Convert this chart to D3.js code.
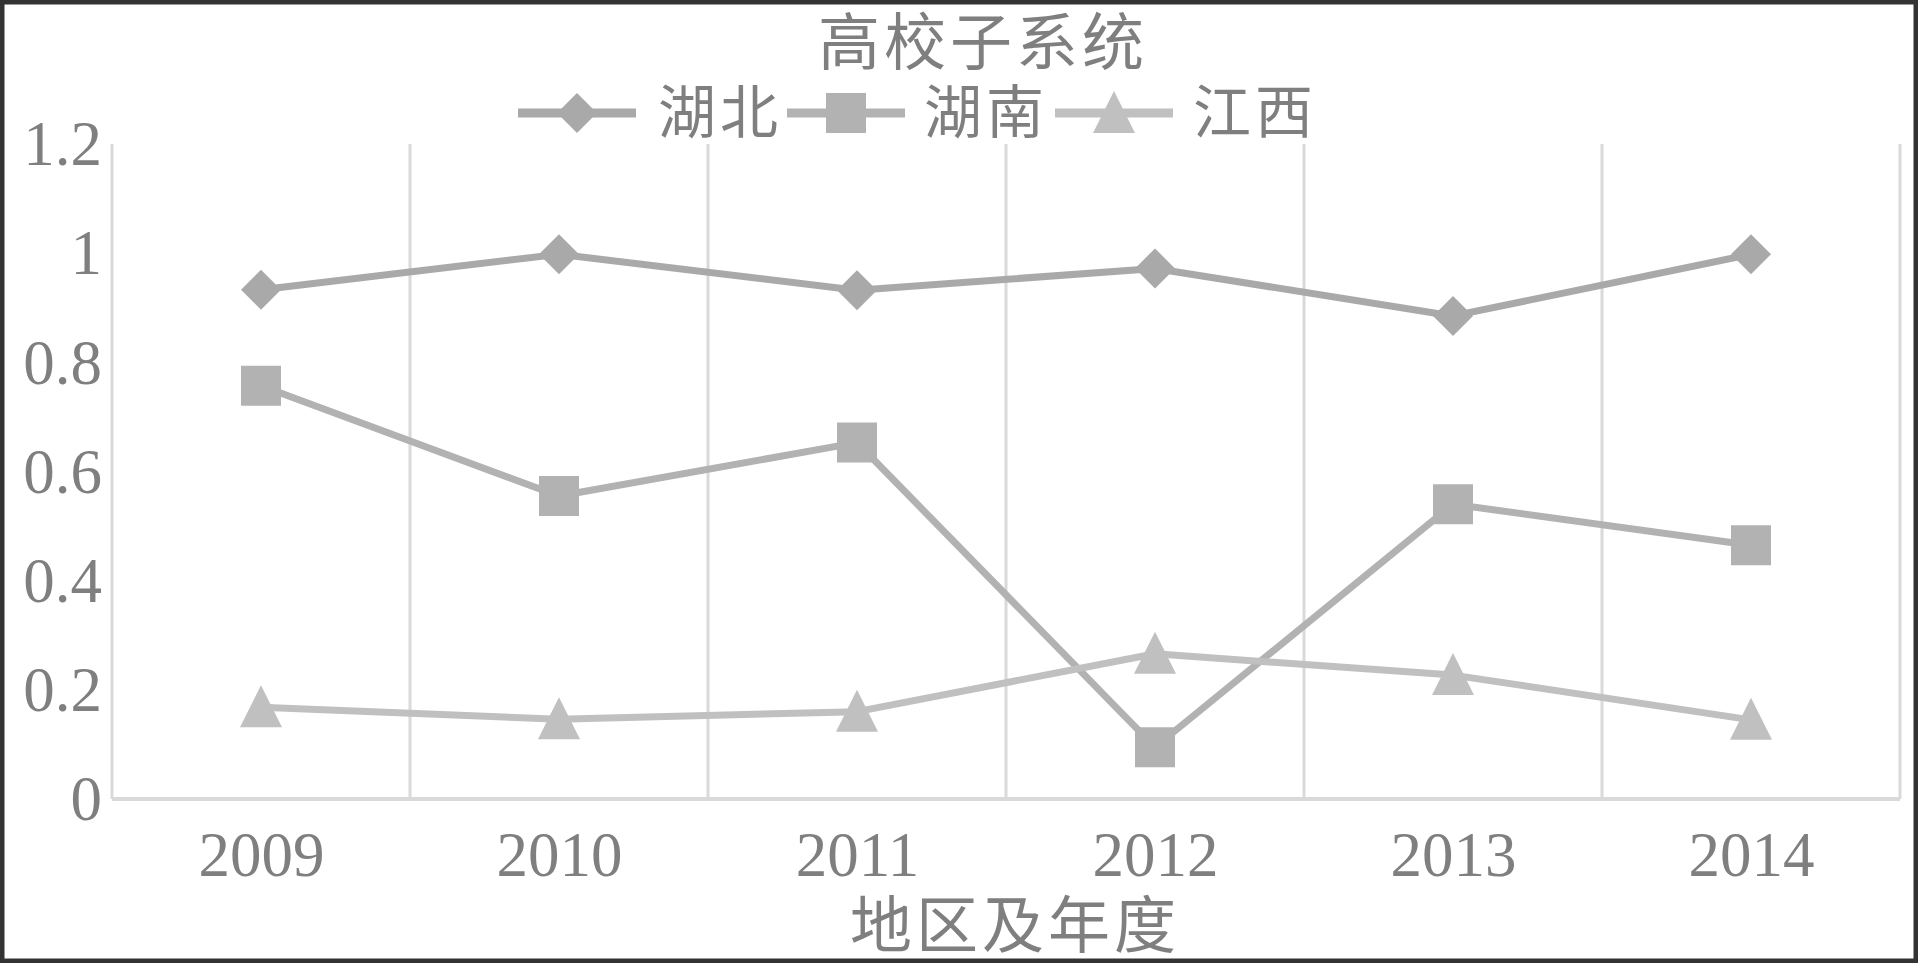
<!DOCTYPE html>
<html>
<head>
<meta charset="utf-8">
<script src="https://cdn.jsdelivr.net/npm/d3@7/dist/d3.min.js"></script>
<style>
html,body{margin:0;padding:0;background:#fff;}
svg{display:block;}
</style>
</head>
<body>
<svg id="chart" width="1918" height="963"></svg>
<script>
const categories = ["2009","2010","2011","2012","2013","2014"];
const seriesNames = ["湖北","湖南","江西"];
const hubei  = [0.933, 0.998, 0.932, 0.972, 0.885, 0.998];
const hunan  = [0.757, 0.555, 0.653, 0.095, 0.540, 0.465];
const jiangxi= [0.168, 0.146, 0.160, 0.266, 0.227, 0.145];
const yTicks = [0, 0.2, 0.4, 0.6, 0.8, 1, 1.2];
const titleText = "高校子系统";
const xTitleText = "地区及年度";

(function(){
const W = 1918, H = 963;
const pLeft = 112, pRight = 1900, pTop = 144, pBottom = 799;
const fontFam = "'Liberation Serif','Times New Roman','DejaVu Serif','Noto Sans CJK SC',serif";
const textColor = "#7f7f7f";
const gridColor = "#d9d9d9";

const svg = d3.select("#chart");
svg.append("rect").attr("x",0).attr("y",0).attr("width",W).attr("height",H).attr("fill","#fff");

const xBand = d3.scaleBand().domain(categories).range([pLeft, pRight]).paddingInner(0).paddingOuter(0);
const x = d3.scalePoint().domain(categories).range([pLeft, pRight]).padding(0.5);
const y = d3.scaleLinear().domain([0, 1.2]).range([pBottom, pTop]);

const bounds = categories.map(c => xBand(c)).concat([xBand(categories[categories.length-1]) + xBand.bandwidth()]);
svg.append("g").selectAll("line").data(bounds).join("line")
  .attr("x1", d => d).attr("x2", d => d)
  .attr("y1", pTop).attr("y2", pBottom)
  .attr("stroke", gridColor).attr("stroke-width", 3);

svg.append("line").attr("x1", pLeft).attr("x2", pRight).attr("y1", pBottom).attr("y2", pBottom)
  .attr("stroke", gridColor).attr("stroke-width", 4);

const yAxis = d3.axisLeft(y).tickValues(yTicks).tickSize(0).tickPadding(0)
  .tickFormat(d => d3.format("~g")(d));
const gy = svg.append("g").attr("transform", `translate(${pLeft - 10},0)`).call(yAxis);
gy.select(".domain").remove();
gy.selectAll("text").attr("font-family", fontFam).attr("font-size", 63).attr("fill", textColor)
  .attr("dy", "0.33em");

const xAxis = d3.axisBottom(x).tickSize(0).tickPadding(0);
const gx = svg.append("g").attr("transform", `translate(0,${bottomOffset()})`).call(xAxis);
function bottomOffset(){ return pBottom + 32; }
gx.select(".domain").remove();
gx.selectAll("text").attr("font-family", fontFam).attr("font-size", 63).attr("fill", textColor)
  .attr("dy", "0.71em");

const series = [
  {name: seriesNames[0], values: hubei, color: "#a9a9a9", shape: "diamond"},
  {name: seriesNames[1], values: hunan, color: "#b2b2b2", shape: "square"},
  {name: seriesNames[2], values: jiangxi, color: "#c0c0c0", shape: "triangle"}
];

function markerPath(shape){
  if (shape === "diamond") return "M0,-20L20,0L0,20L-20,0Z";
  if (shape === "square") return "M-20,-20H20V20H-20Z";
  return "M0,-22L21,20H-21Z";
}

const line = d3.line().x((d,i) => x(categories[i])).y(d => y(d));

series.forEach(s => {
  svg.append("path").datum(s.values).attr("d", line)
    .attr("fill","none").attr("stroke", s.color).attr("stroke-width", 7)
    .attr("stroke-linejoin","round");
});
series.forEach(s => {
  svg.append("g").selectAll("path").data(s.values).join("path")
    .attr("transform", (d,i) => `translate(${x(categories[i])},${y(d)})`)
    .attr("d", markerPath(s.shape))
    .attr("fill", s.color);
});

svg.append("text").attr("x", 983).attr("y", 43).attr("text-anchor","middle").attr("dy","0.35em")
  .attr("font-family", fontFam).attr("font-size", 62).attr("fill", textColor).attr("letter-spacing", 4)
  .text(titleText);

svg.append("text").attr("x", 1015).attr("y", 926).attr("text-anchor","middle").attr("dy","0.35em")
  .attr("font-family", fontFam).attr("font-size", 62).attr("fill", textColor).attr("letter-spacing", 4)
  .text(xTitleText);

const legendItems = [
  {s: series[0], lx: 518, tx: 658},
  {s: series[1], lx: 787, tx: 924},
  {s: series[2], lx: 1055, tx: 1193}
];
const ly = 113;
const lg = svg.append("g");
legendItems.forEach(it => {
  lg.append("line").attr("x1", it.lx).attr("x2", it.lx + 118).attr("y1", ly).attr("y2", ly)
    .attr("stroke", it.s.color).attr("stroke-width", 9);
  lg.append("path").attr("transform", `translate(${it.lx + 59},${ly})`)
    .attr("d", markerPath(it.s.shape)).attr("fill", it.s.color);
  lg.append("text").attr("x", it.tx).attr("y", ly).attr("dy","0.35em")
    .attr("font-family", fontFam).attr("font-size", 58).attr("fill", textColor).attr("letter-spacing", 4)
    .text(it.s.name);
});

svg.append("rect").attr("x", 0).attr("y", 0).attr("width", W).attr("height", H)
  .attr("fill","none").attr("stroke","#333").attr("stroke-width", 9);
})();
</script>
</body>
</html>
